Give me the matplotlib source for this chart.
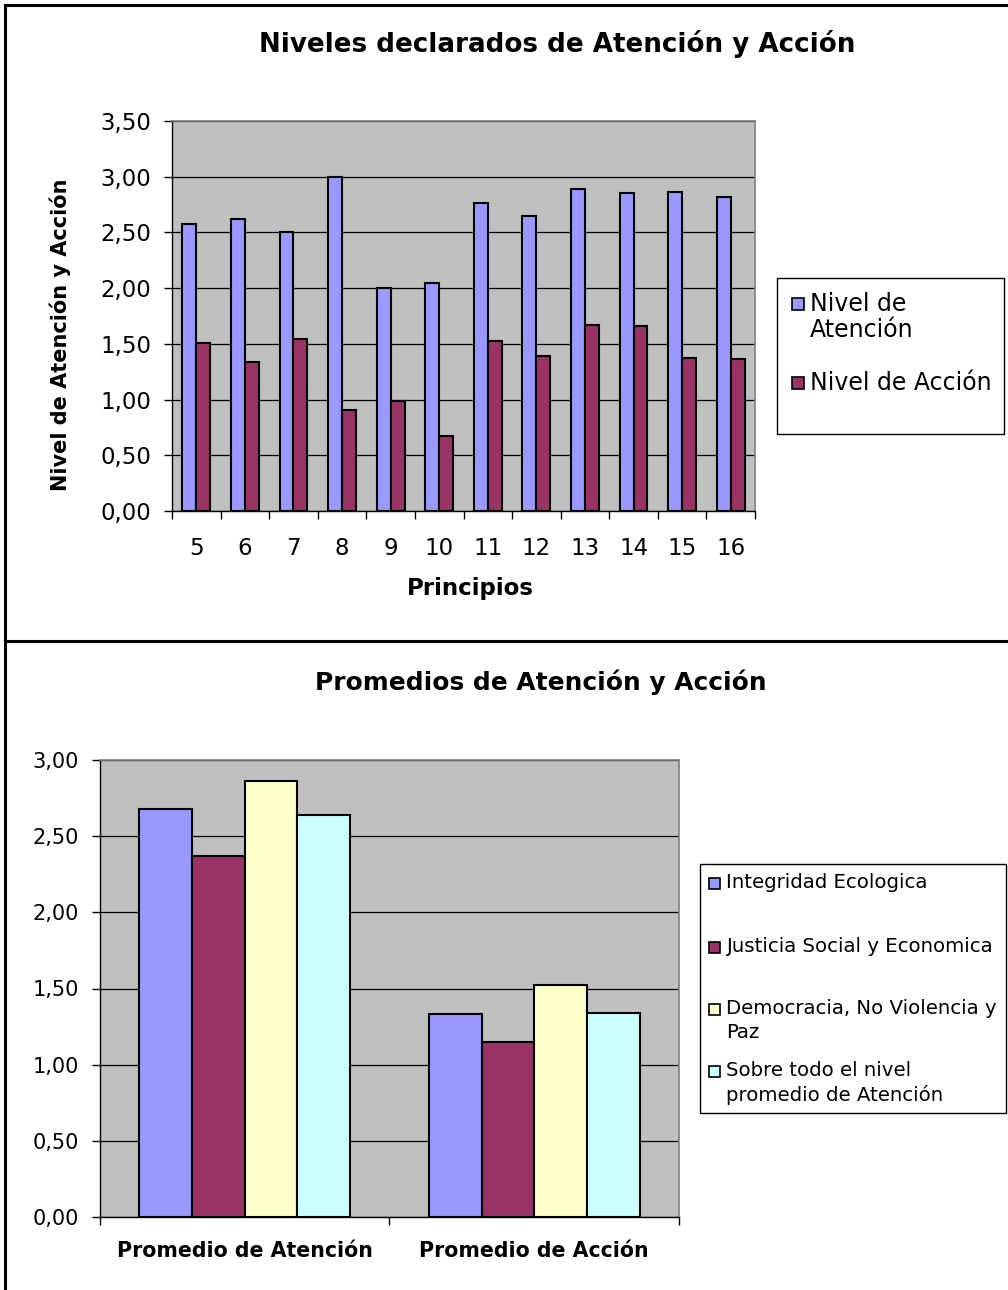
import matplotlib
matplotlib.use("Agg")
import matplotlib.pyplot as plt
import numpy as np
from matplotlib.patches import Rectangle
from matplotlib.lines import Line2D

plt.rcParams['font.family'] = ['DejaVu Sans']

# ---- data: declared levels per principle ----
principios = ["5", "6", "7", "8", "9", "10", "11", "12", "13", "14", "15", "16"]
nivel_atencion = [2.58, 2.62, 2.50, 3.00, 2.00, 2.05, 2.76, 2.65, 2.89, 2.85, 2.86, 2.82]
nivel_accion = [1.51, 1.34, 1.54, 0.91, 0.99, 0.67, 1.53, 1.39, 1.67, 1.66, 1.37, 1.36]
top_series = ["Nivel de\nAtención", "Nivel de Acción"]
top_ticks = [0.0, 0.5, 1.0, 1.5, 2.0, 2.5, 3.0, 3.5]

# ---- data: averages by group ----
promedio_cats = ["Promedio de Atención", "Promedio de Acción"]
grupos = ["Integridad Ecologica", "Justicia Social y Economica",
          "Democracia, No Violencia y\nPaz", "Sobre todo el nivel\npromedio de Atención"]
promedios = [
    [2.68, 1.33],   # Integridad Ecologica
    [2.37, 1.15],   # Justicia Social y Economica
    [2.86, 1.52],   # Democracia, No Violencia y Paz
    [2.64, 1.34],   # Sobre todo el nivel promedio
]
bottom_ticks = [0.0, 0.5, 1.0, 1.5, 2.0, 2.5, 3.0]

colors = ["#9999FF", "#993366", "#FFFFCC", "#CCFFFF"]
plot_bg = "#C0C0C0"

W, H = 1008, 1290
fig = plt.figure(figsize=(W / 100, H / 100), dpi=100)


def fx(px):
    return px / W


def fy(py):
    return 1 - py / H


def px_axes(left, top, right, bottom):
    return fig.add_axes([fx(left), fy(bottom), (right - left) / W, (bottom - top) / H])


def fmt(v):
    return f"{v:.2f}".replace(".", ",")


def style_axes(ax, ticks, fs):
    ax.set_facecolor(plot_bg)
    ax.set_ylim(ticks[0], ticks[-1])
    ax.set_yticks(ticks)
    ax.set_yticklabels([fmt(t) for t in ticks], fontsize=fs)
    ax.yaxis.grid(True, color="black", linewidth=0.9)
    ax.set_axisbelow(True)
    for s in ["top", "right"]:
        ax.spines[s].set_color("#808080")
        ax.spines[s].set_linewidth(1.2)
    for s in ["left", "bottom"]:
        ax.spines[s].set_color("black")
        ax.spines[s].set_linewidth(1.0)
    ax.tick_params(axis="y", length=6, width=1, pad=9)


def key_box(box, entries, fs, sq, text_x, line_h, gap):
    """Legend panel: framed box, a colour square per series, label lines beside it."""
    l, t, r, b = box
    fig.add_artist(Rectangle((fx(l), fy(b)), (r - l) / W, (b - t) / H,
                             transform=fig.transFigure, facecolor="white",
                             edgecolor="black", linewidth=1.0))
    for color, label, y0 in entries:
        fig.add_artist(Rectangle((fx(text_x - sq - gap), fy(y0 + sq / 2)), sq / W, sq / H,
                                 transform=fig.transFigure, facecolor=color,
                                 edgecolor="black", linewidth=1.2))
        for k, line in enumerate(label.split("\n")):
            fig.text(fx(text_x), fy(y0 + k * line_h), line, fontsize=fs,
                     ha="left", va="center")


# ---- top chart ----
ax1 = px_axes(172, 121, 755, 511)
n = len(principios)
x = np.arange(n)
bw = 1 / 3.5
ax1.bar(x - bw / 2, nivel_atencion, bw, color=colors[0], edgecolor="black", linewidth=1.5, zorder=3)
ax1.bar(x + bw / 2, nivel_accion, bw, color=colors[1], edgecolor="black", linewidth=1.5, zorder=3)
ax1.set_xlim(-0.5, n - 0.5)
style_axes(ax1, top_ticks, 16.5)
ax1.set_xticks(x)
ax1.set_xticklabels(principios, fontsize=16.5)
ax1.set_xticks(np.arange(-0.5, n, 1), minor=True)
ax1.tick_params(axis="x", which="major", length=0, pad=19)
ax1.tick_params(axis="x", which="minor", length=6, width=1)
ax1.set_xlabel("Principios", fontsize=16.5, fontweight="bold")
ax1.xaxis.set_label_coords((470 - 172) / 583, -(588 - 511) / 390)
ax1.xaxis.label.set_va("center")
ax1.set_ylabel("Nivel de Atención y Acción", fontsize=15, fontweight="bold")
ax1.yaxis.set_label_coords(-(172 - 60) / 583, (511 - 335) / 390)
ax1.yaxis.label.set_va("center")
fig.text(fx(557), fy(44), "Niveles declarados de Atención y Acción",
         ha="center", va="center", fontsize=18.8, fontweight="bold")

key_box((777, 278, 1004, 434),
        [(colors[0], top_series[0], 304), (colors[1], top_series[1], 383)],
        fs=17, sq=12, text_x=810, line_h=26, gap=6)

# ---- bottom chart ----
ax2 = px_axes(100, 760, 679, 1217)
m = len(promedio_cats)
xc = np.arange(m)
bw2 = 1 / 5.5
for i, vals in enumerate(promedios):
    ax2.bar(xc + (i - 1.5) * bw2, vals, bw2, color=colors[i], edgecolor="black",
            linewidth=1.5, zorder=3)
ax2.set_xlim(-0.5, m - 0.5)
style_axes(ax2, bottom_ticks, 15)
ax2.set_xticks(xc)
ax2.set_xticklabels(promedio_cats, fontsize=14.8, fontweight="bold")
ax2.set_xticks(np.arange(-0.5, m, 1), minor=True)
ax2.tick_params(axis="x", which="major", length=0, pad=17)
ax2.tick_params(axis="x", which="minor", length=6, width=1)
fig.text(fx(541), fy(682), "Promedios de Atención y Acción",
         ha="center", va="center", fontsize=17.9, fontweight="bold")

key_box((700, 864, 1006, 1113),
        [(colors[0], grupos[0], 883), (colors[1], grupos[1], 947),
         (colors[2], grupos[2], 1009), (colors[3], grupos[3], 1071)],
        fs=14.2, sq=11, text_x=726, line_h=24, gap=6)

# ---- page frame ----
frame = dict(color="black", linewidth=2.2, transform=fig.transFigure)
fig.add_artist(Line2D([fx(5), fx(5)], [0, fy(5)], **frame))
fig.add_artist(Line2D([fx(5), 1], [fy(5), fy(5)], **frame))
fig.add_artist(Line2D([fx(5), 1], [fy(641), fy(641)], **frame))

fig.savefig("out.png", dpi=100)
